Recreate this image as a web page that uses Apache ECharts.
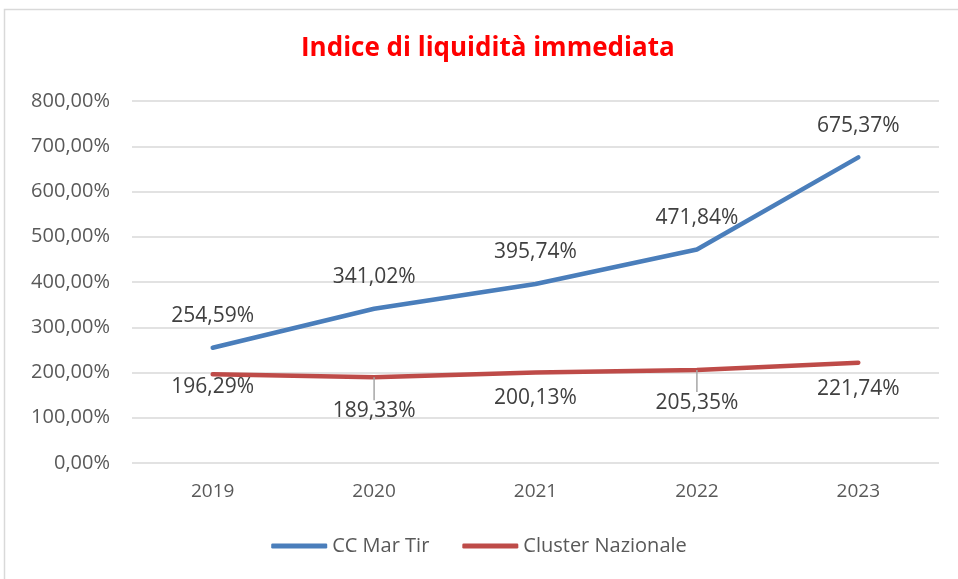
<!DOCTYPE html>
<html><head><meta charset="utf-8">
<script src="https://cdn.jsdelivr.net/npm/echarts@6/dist/echarts.min.js"></script>
<style>html,body{margin:0;padding:0;background:#fff}#c{width:958px;height:579px}</style>
</head><body><div id="c"></div>
<script>
const years = ['2019','2020','2021','2022','2023'];
const ccMarTir = [254.59, 341.02, 395.74, 471.84, 675.37];
const clusterNazionale = [196.29, 189.33, 200.13, 205.35, 221.74];
const yTicks = [0,100,200,300,400,500,600,700,800];

const fmt = v => v.toFixed(2).replace('.', ',') + '%';
const FONT = '"Open Sans", "Noto Sans", sans-serif';
// label offsets below the red line; leaders only where Excel drew them
const redDy = [2, 15, 15, 14, 16];
const redLeader = [false, true, false, true, false];
const redData = clusterNazionale.map((v, i) => ({
  value: v,
  labelLine: {show: redLeader[i]},
  label: redLeader[i] ? {padding: [8, 0, 0, 0]} : {}
}));

const chart = echarts.init(document.getElementById('c'));
chart.setOption({
  animation: false,
  textStyle: {fontFamily: FONT},
  title: {text: 'Indice di liquidità immediata', left: 296, top: 31,
    textStyle: {color: '#ff0000', fontSize: 26, fontWeight: 'bold', fontFamily: FONT}},
  graphic: [{type: 'rect', shape: {x: 4.5, y: 9.5, width: 960, height: 580},
    style: {fill: 'none', stroke: '#d9d9d9', lineWidth: 1.5}, silent: true}],
  grid: {left: 132, right: 19, top: 101, bottom: 116},
  xAxis: {type: 'category', data: years, boundaryGap: true,
    axisLine: {show: false}, axisTick: {show: false},
    axisLabel: {color: '#595959', fontSize: 19, margin: 19, fontFamily: FONT}},
  yAxis: {type: 'value', min: 0, max: 800, interval: 100,
    axisLine: {show: false}, axisTick: {show: false},
    splitLine: {lineStyle: {color: '#d9d9d9', width: 1.5}},
    axisLabel: {color: '#595959', fontSize: 20, margin: 22, fontFamily: FONT,
      formatter: v => yTicks.includes(v) ? fmt(v) : ''}},
  legend: {bottom: 18, left: 'center', itemWidth: 56, itemHeight: 5, itemGap: 33,
    icon: 'roundRect',
    textStyle: {color: '#595959', fontSize: 20, fontFamily: FONT},
    data: ['CC Mar Tir', 'Cluster Nazionale']},
  series: [
    {name: 'CC Mar Tir', type: 'line', data: ccMarTir, symbol: 'circle', symbolSize: 0.01,
      showSymbol: true,
      lineStyle: {color: '#4a7ebb', width: 4.5, cap: 'round'}, itemStyle: {color: '#4a7ebb'},
      label: {show: true, position: 'top', distance: 21, color: '#404040', fontSize: 21,
        fontFamily: FONT, formatter: p => fmt(p.value)}},
    {name: 'Cluster Nazionale', type: 'line', data: redData, symbol: 'circle', symbolSize: 0.01,
      showSymbol: true,
      lineStyle: {color: '#be4b48', width: 4.5, cap: 'round'}, itemStyle: {color: '#be4b48'},
      label: {show: true, position: 'bottom', distance: 0, color: '#404040', fontSize: 21,
        fontFamily: FONT, formatter: p => fmt(p.value)},
      labelLine: {show: false, lineStyle: {color: '#a6a6a6', width: 1.5}},
      labelLayout: p => ({dy: redDy[p.dataIndex]})}
  ]
});
</script></body></html>
